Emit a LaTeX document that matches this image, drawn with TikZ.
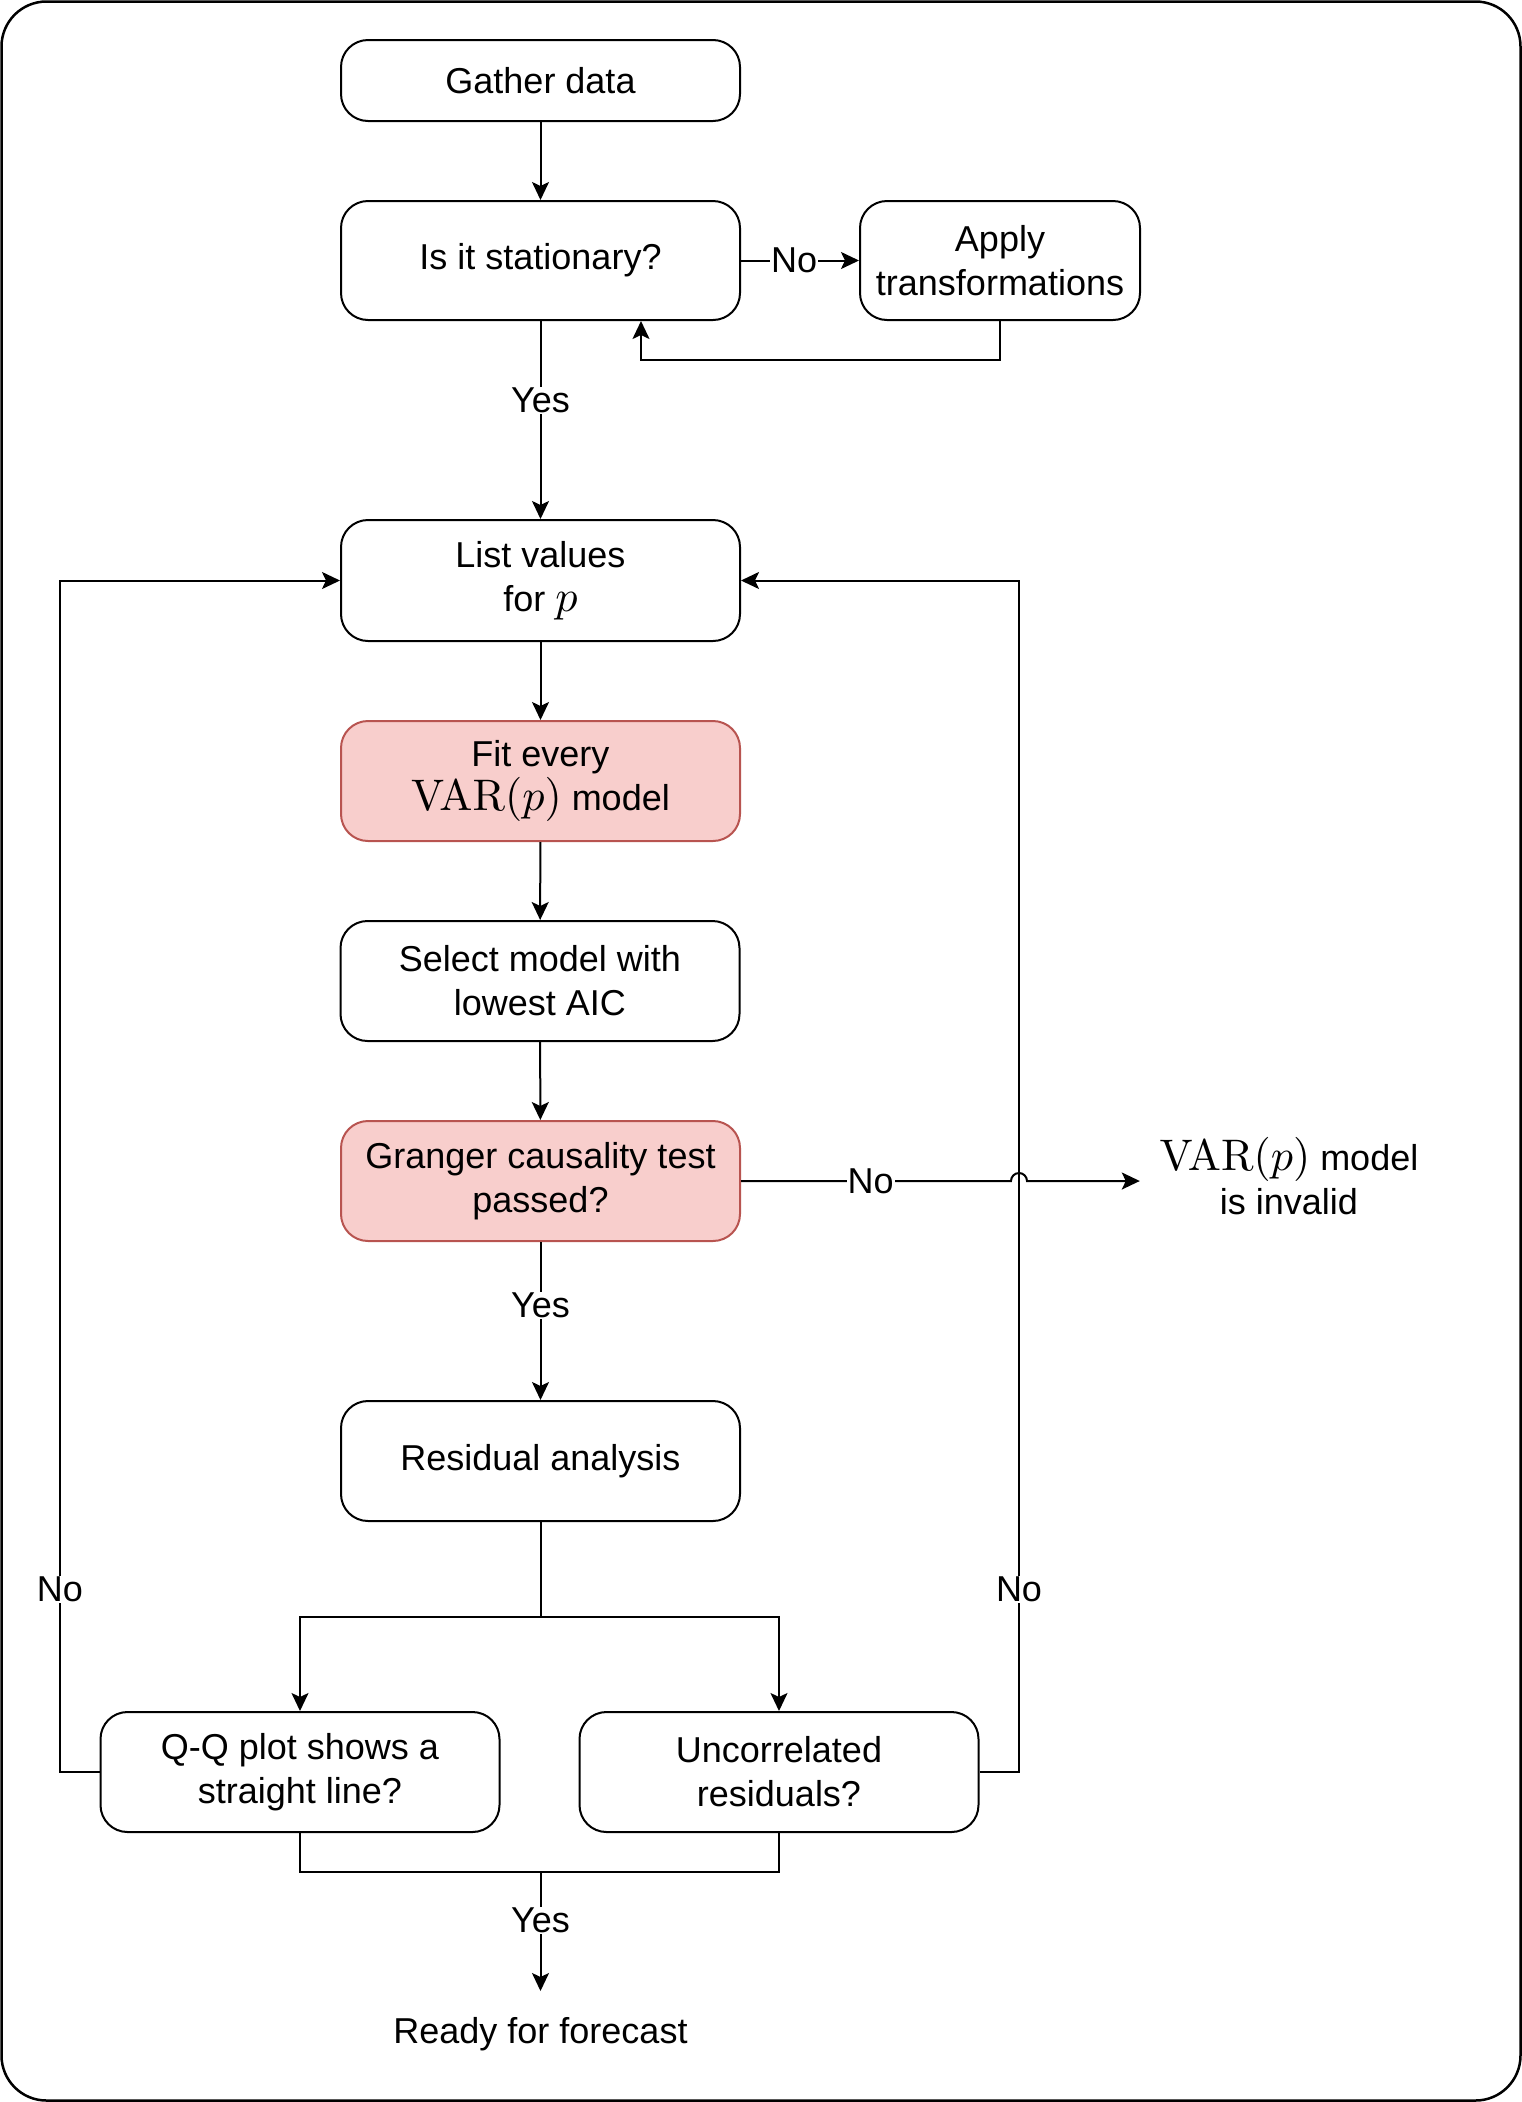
\RequirePackage{fix-cm}
\documentclass[tikz,border=0pt]{standalone}
\usepackage[no-math]{fontspec}
\setmainfont{Liberation Sans}
\usetikzlibrary{arrows.meta}
\definecolor{boxred}{HTML}{F8CECC}
\definecolor{edgered}{HTML}{B85450}
\newcommand\vrp{\scalebox{4.42}{\fontsize{10}{12}\selectfont$\mathrm{VAR}(p)$}}
\newcommand\pvar{\scalebox{4.42}{\fontsize{10}{12}\selectfont$p$}}
\begin{document}
\begin{tikzpicture}[x=1pt,y=-1pt,
  txt/.style={font=\fontsize{36}{44}\selectfont, align=center},
  box/.style={txt, draw, line width=2pt, rounded corners=27pt, minimum width=399pt, minimum height=119pt, inner sep=0pt},
  hot/.style={fill=boxred, draw=edgered},
  conn/.style={line width=2pt, -{Stealth[length=18pt,width=17pt,inset=4pt]}},
  plain/.style={line width=2pt},
  lbl/.style={txt, fill=white, inner sep=1pt}
]
\useasboundingbox (0,0) rectangle (1522,2102);
\draw[line width=2.5pt, rounded corners=45pt] (1.5,1.5) rectangle (1520.5,2100.5);

\node[box, minimum height=81pt] (gather) at (540.5,80.5) {Gather data};
\node[box] (stat) at (540.5,260.5) {Is it stationary?};
\node[box, minimum width=280pt] (apply) at (1000,260.5) {Apply\\transformations};
\node[box, minimum height=121pt] (list) at (540.5,580.5) {List values\\for \pvar};
\node[box, hot, minimum height=120pt] (fit) at (540.5,781) {Fit every\\\vrp{} model};
\node[box, minimum height=120pt] (select) at (540,981) {Select model with\\lowest AIC};
\node[box, hot, minimum height=120pt] (granger) at (540.5,1181) {Granger causality test\\passed?};
\node[box, minimum height=120pt] (resid) at (540.5,1461) {Residual analysis};
\node[box, minimum height=120pt] (qq) at (300,1772) {Q-Q plot shows a\\straight line?};
\node[box, minimum height=120pt] (unc) at (779,1772) {Uncorrelated\\residuals?};
\node[txt, anchor=north, minimum height=86pt, minimum width=320pt, inner sep=0pt] (ready) at (540.5,1991) {Ready for forecast};
\node[txt, minimum width=298pt, minimum height=100pt, inner sep=0pt] (invalid) at (1289,1176) {\vrp{} model\\is invalid};

\coordinate (hop) at (1019,1181);
\coordinate (m) at (540.5,1871);
\coordinate (lb) at (60,1772);
\coordinate (lt) at (60,580.5);
\coordinate (rb) at (1019,1772);
\coordinate (rt) at (1019,580.5);

\draw[conn] (gather) -- (stat);
\draw[conn] (stat.east) -- node[lbl, pos=0.45]{No} (apply.west);
\draw[conn] (apply.south) -- ++(0,39) -| ([xshift=100.5pt]stat.south);
\draw[conn] (stat) -- node[lbl, pos=0.4]{Yes} (list);
\draw[conn] (list) -- (fit);
\draw[conn] (fit) -- (select);
\draw[conn] (select) -- (granger);
\draw[conn] (granger) -- node[lbl, pos=0.4]{Yes} (resid);
\draw[conn] (granger.east) -- node[lbl, pos=0.48]{No} ([xshift=-8pt]hop) arc (180:0:8pt) -- (invalid.west |- hop);
\draw[conn] (resid.south) -- ++(0,95) -| (qq.north);
\draw[conn] (resid.south) -- ++(0,95) -| (unc.north);
\draw[plain] (qq.south) -- ++(0,39) -| (unc.south);
\draw[conn] (m) -- node[lbl, pos=0.41]{Yes} (ready.north);
\draw[conn] (qq.west) -- (lb) -- node[lbl, pos=0.153]{No} (lt) -- (list.west);
\draw[conn] (unc.east) -- (rb) -- node[lbl, pos=0.153]{No} (rt) -- (list.east);
\end{tikzpicture}
\end{document}
